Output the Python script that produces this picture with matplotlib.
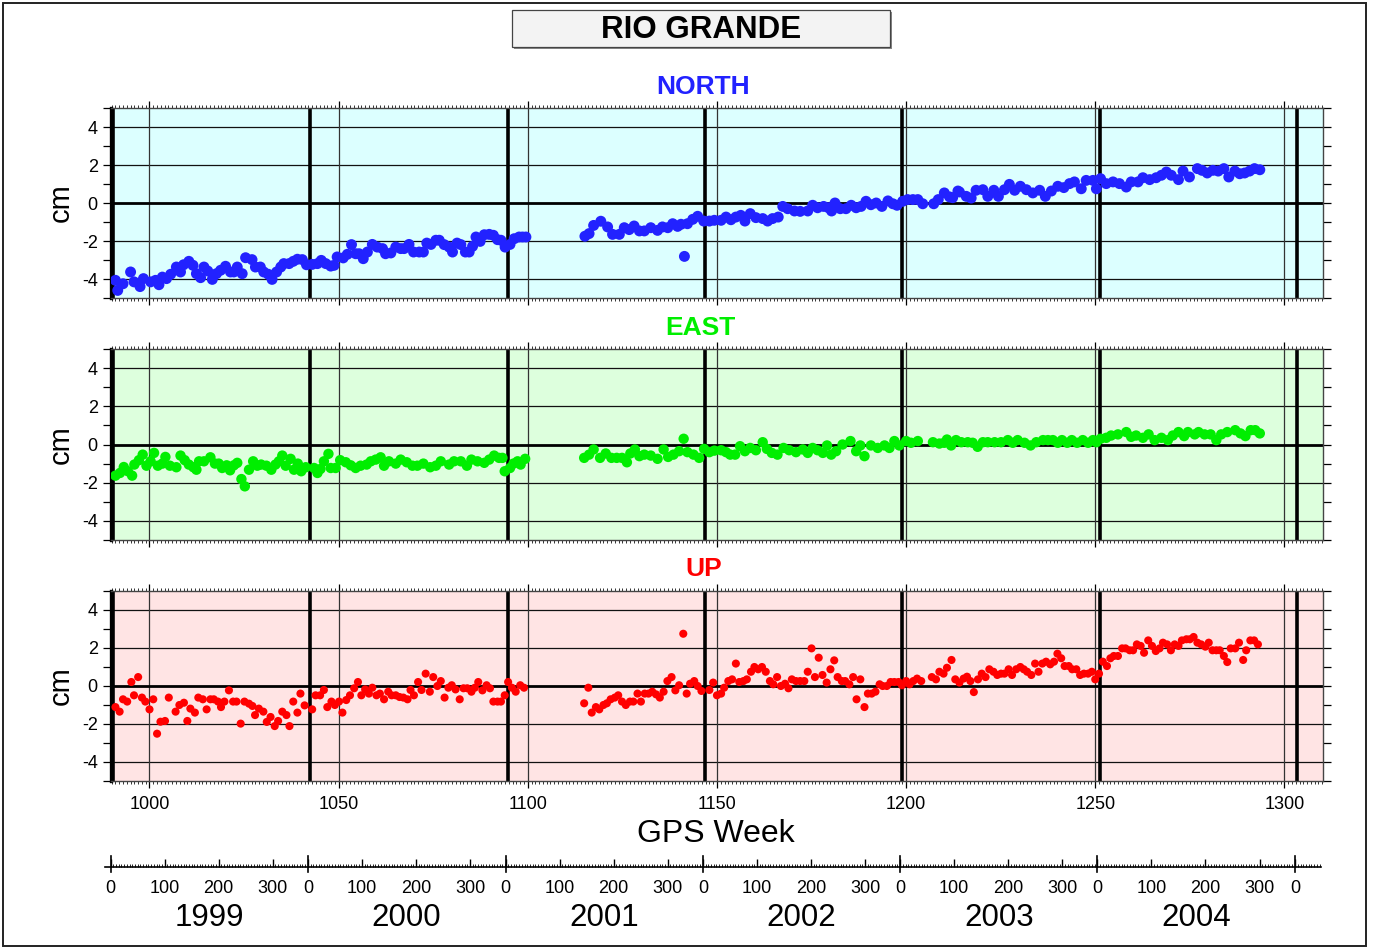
import numpy as np
import matplotlib.pyplot as plt
from matplotlib.patches import Rectangle
from matplotlib.ticker import MultipleLocator, FixedLocator
from matplotlib.transforms import blended_transform_factory

plt.rcParams['font.family'] = ['Liberation Sans', 'DejaVu Sans']
plt.rcParams['axes.unicode_minus'] = False

# ── data (GPS week, displacement in cm) ───────────────────────────────────────
north_week = [
    991.0, 991.6, 993.0, 995.0, 995.9, 997.5, 998.4, 1000.3, 1001.6, 1002.5,
    1003.4, 1004.5, 1005.6, 1007.1, 1008.2, 1009.0, 1010.4, 1011.5, 1012.4, 1013.5,
    1014.4, 1015.4, 1016.6, 1017.7, 1018.8, 1020.1, 1021.4, 1022.3, 1023.2, 1024.5,
    1025.4, 1027.1, 1028.0, 1029.3, 1030.2, 1031.4, 1032.4, 1033.6, 1034.7, 1035.5,
    1036.9, 1038.0, 1039.1, 1040.4, 1041.5, 1043.0, 1044.4, 1045.4, 1046.6, 1047.9,
    1048.8, 1049.6, 1051.2, 1052.3, 1053.4, 1054.5, 1055.4, 1056.5, 1057.6, 1058.9,
    1060.2, 1061.6, 1062.4, 1063.8, 1065.1, 1066.4, 1067.3, 1068.6, 1069.8, 1071.3,
    1072.4, 1073.3, 1074.4, 1075.7, 1076.6, 1077.9, 1079.2, 1080.1, 1081.3, 1082.3,
    1083.5, 1084.5, 1085.4, 1086.3, 1087.4, 1088.5, 1089.8, 1090.9, 1092.0, 1092.9,
    1094.0, 1095.3, 1096.4, 1097.7, 1098.6, 1099.5,
    1115.1, 1116.2, 1117.4, 1119.3, 1121.1, 1122.4, 1124.2, 1125.5, 1126.8, 1128.1,
    1129.5, 1130.8, 1132.5, 1134.3, 1135.6, 1137.0, 1138.3, 1139.6, 1140.5, 1141.4,
    1142.2, 1143.6, 1144.9, 1146.5, 1148.0, 1149.3, 1151.1, 1152.4, 1153.7, 1155.0,
    1156.3, 1157.4, 1158.8, 1160.3, 1162.1, 1163.4, 1164.7, 1166.2, 1167.4, 1168.7,
    1170.5, 1172.0, 1174.0, 1175.3, 1176.6, 1178.2, 1179.5, 1180.3, 1181.2, 1182.6,
    1184.1, 1185.5, 1186.8, 1188.1, 1189.4, 1190.7, 1192.1, 1193.6, 1195.2, 1196.5,
    1197.6, 1199.1, 1200.4, 1201.8, 1203.1, 1204.4, 1207.3, 1208.5, 1210.1, 1211.5,
    1212.3, 1213.7, 1214.1, 1215.9, 1217.2, 1218.5, 1220.3, 1221.6, 1223.2, 1224.4,
    1226.0, 1227.3, 1228.7, 1230.2, 1231.8, 1233.5, 1235.3, 1236.8, 1238.4, 1240.1,
    1241.7, 1243.2, 1244.5, 1246.3, 1247.6, 1249.4, 1250.3, 1251.4, 1252.9, 1254.7,
    1256.4, 1258.2, 1259.5, 1261.3, 1262.6, 1264.4, 1266.1, 1267.5, 1268.8, 1270.1,
    1272.0, 1273.2, 1274.9, 1277.0, 1278.2, 1279.6, 1281.1, 1282.5, 1284.0, 1285.3,
    1286.9, 1288.2, 1289.5, 1290.8, 1292.1, 1293.5,
]
north_cm = [
    -4.07, -4.60, -4.25, -3.63, -4.15, -4.40, -3.98, -4.15, -4.07, -4.30,
    -3.90, -3.98, -3.75, -3.37, -3.63, -3.25, -3.07, -3.28, -3.72, -3.93,
    -3.37, -3.58, -4.02, -3.72, -3.54, -3.33, -3.63, -3.63, -3.37, -3.72,
    -2.88, -2.98, -3.37, -3.37, -3.63, -3.75, -4.02, -3.63, -3.37, -3.19,
    -3.19, -3.07, -2.96, -2.98, -3.25, -3.23, -3.19, -3.02, -3.19, -3.32,
    -3.28, -2.84, -2.89, -2.70, -2.19, -2.67, -2.67, -2.93, -2.58, -2.18,
    -2.32, -2.40, -2.67, -2.63, -2.32, -2.40, -2.40, -2.18, -2.58, -2.58,
    -2.58, -2.11, -2.18, -1.96, -1.96, -2.19, -2.32, -2.58, -2.11, -2.19,
    -2.58, -2.58, -2.28, -1.79, -2.02, -1.67, -1.65, -1.70, -1.93, -1.96,
    -2.32, -2.18, -1.88, -1.79, -1.79, -1.79,
    -1.75, -1.61, -1.18, -0.96, -1.26, -1.65, -1.65, -1.30, -1.40, -1.21,
    -1.47, -1.47, -1.30, -1.44, -1.26, -1.30, -1.09, -1.23, -1.12, -2.81,
    -1.09, -0.86, -0.70, -0.95, -0.95, -0.91, -0.91, -0.74, -0.88, -0.74,
    -0.65, -0.95, -0.56, -0.77, -0.82, -0.95, -0.82, -0.74, -0.18, -0.30,
    -0.42, -0.44, -0.42, -0.12, -0.25, -0.18, -0.25, -0.42, 0.00, -0.30,
    -0.30, -0.12, -0.25, -0.18, 0.09, -0.09, 0.00, -0.18, 0.11, -0.04,
    -0.12, 0.09, 0.18, 0.18, 0.18, -0.04, -0.04, 0.18, 0.53, 0.32,
    0.28, 0.63, 0.58, 0.35, 0.26, 0.67, 0.70, 0.35, 0.67, 0.35,
    0.70, 0.98, 0.67, 0.88, 0.70, 0.53, 0.67, 0.35, 0.63, 0.88,
    0.81, 1.02, 1.11, 0.75, 1.19, 1.19, 0.75, 1.28, 1.02, 1.11,
    1.02, 0.84, 1.11, 1.11, 1.33, 1.23, 1.33, 1.46, 1.63, 1.46,
    1.23, 1.68, 1.37, 1.81, 1.72, 1.58, 1.72, 1.68, 1.81, 1.37,
    1.68, 1.54, 1.58, 1.68, 1.81, 1.75,
]

east_week = [
    991.0, 992.2, 993.2, 994.3, 995.4, 996.0, 997.2, 998.2, 999.2, 1000.3,
    1001.2, 1002.2, 1003.4, 1004.2, 1005.4, 1007.1, 1008.2, 1009.3, 1010.4, 1011.6,
    1012.4, 1013.1, 1014.4, 1016.1, 1017.3, 1018.3, 1019.2, 1020.4, 1021.3, 1022.3,
    1023.2, 1024.3, 1025.2, 1026.3, 1027.4, 1028.5, 1029.5, 1030.9, 1032.2, 1033.3,
    1034.2, 1035.1, 1036.0, 1037.3, 1038.2, 1039.2, 1040.1, 1041.3, 1043.5, 1044.4,
    1045.2, 1046.1, 1047.3, 1047.9, 1049.2, 1050.4, 1051.9, 1053.2, 1054.5, 1055.8,
    1057.4, 1058.5, 1059.8, 1061.1, 1062.0, 1063.3, 1065.1, 1066.4, 1068.0, 1069.5,
    1070.8, 1072.4, 1074.2, 1075.7, 1077.0, 1079.2, 1080.5, 1082.3, 1083.9, 1085.1,
    1086.7, 1088.5, 1089.8, 1091.1, 1092.4, 1093.3, 1093.9, 1095.3, 1096.2, 1097.3,
    1098.1, 1099.3,
    1114.9, 1116.2, 1117.4, 1119.1, 1120.6, 1122.1, 1123.5, 1124.9, 1126.2, 1127.1,
    1128.3, 1129.5, 1130.8, 1132.5, 1134.3, 1135.9, 1137.1, 1138.5, 1140.0, 1141.2,
    1142.2, 1143.8, 1145.3, 1146.6, 1148.0, 1149.3, 1151.1, 1152.4, 1153.5, 1154.8,
    1156.1, 1157.4, 1158.8, 1160.3, 1162.1, 1163.2, 1164.5, 1166.0, 1167.6, 1169.1,
    1170.9, 1172.7, 1174.0, 1175.3, 1176.6, 1178.0, 1179.1, 1180.2, 1181.5, 1183.2,
    1185.3, 1186.8, 1187.9, 1189.0, 1190.7, 1192.5, 1194.3, 1195.6, 1196.9, 1198.2,
    1200.0, 1201.3, 1203.1, 1207.1, 1208.8, 1210.1, 1210.8, 1211.9, 1213.2, 1214.6,
    1216.3, 1217.6, 1218.9, 1220.3, 1221.6, 1223.4, 1225.1, 1226.9, 1228.2, 1229.5,
    1231.3, 1232.9, 1234.4, 1236.2, 1237.5, 1238.8, 1240.1, 1241.2, 1242.6, 1243.8,
    1245.2, 1246.7, 1248.1, 1249.4, 1250.3, 1251.4, 1252.9, 1254.2, 1256.0, 1258.2,
    1259.5, 1260.8, 1262.6, 1264.1, 1265.7, 1267.5, 1269.2, 1270.5, 1272.0, 1273.5,
    1274.5, 1276.3, 1277.3, 1278.9, 1280.5, 1282.0, 1283.3, 1284.9, 1287.0, 1288.4,
    1289.7, 1291.1, 1292.3, 1293.5,
]
east_cm = [
    -1.63, -1.49, -1.18, -1.40, -1.63, -1.05, -0.82, -0.53, -1.11, -0.88,
    -0.44, -1.11, -1.00, -0.65, -1.11, -1.19, -0.58, -0.82, -1.05, -1.19,
    -1.32, -0.88, -0.88, -0.67, -1.00, -1.00, -1.23, -1.09, -1.35, -1.09,
    -0.96, -1.81, -2.19, -1.32, -0.88, -1.11, -1.05, -1.11, -1.32, -1.05,
    -0.88, -0.58, -1.11, -0.75, -1.32, -1.00, -1.40, -1.19, -1.23, -1.49,
    -1.28, -0.88, -0.49, -1.23, -1.23, -0.82, -0.93, -1.09, -1.23, -1.11,
    -1.05, -0.88, -0.79, -0.67, -1.11, -0.88, -1.00, -0.79, -0.93, -1.11,
    -1.11, -1.00, -1.19, -1.11, -0.88, -1.05, -0.88, -0.88, -1.11, -0.79,
    -0.88, -0.96, -0.79, -0.58, -0.70, -0.70, -1.40, -1.23, -1.00, -0.88,
    -1.05, -0.75,
    -0.70, -0.53, -0.26, -0.70, -0.47, -0.70, -0.70, -0.70, -0.93, -0.47,
    -0.26, -0.61, -0.53, -0.58, -0.75, -0.26, -0.65, -0.53, -0.35, 0.30,
    -0.40, -0.53, -0.70, -0.23, -0.40, -0.32, -0.30, -0.40, -0.53, -0.53,
    -0.09, -0.35, -0.18, -0.30, 0.12, -0.23, -0.44, -0.53, -0.18, -0.30,
    -0.40, -0.26, -0.44, -0.18, -0.30, -0.44, -0.05, -0.53, -0.35, 0.00,
    0.18, -0.35, -0.05, -0.61, -0.05, -0.18, -0.05, -0.18, 0.18, -0.05,
    0.18, 0.09, 0.18, 0.12, 0.05, 0.09, 0.26, -0.05, 0.23, 0.12,
    0.12, 0.09, -0.12, 0.12, 0.12, 0.12, 0.12, 0.23, 0.09, 0.23,
    0.09, -0.05, 0.12, 0.23, 0.23, 0.23, 0.09, 0.23, 0.09, 0.23,
    0.09, 0.23, 0.09, 0.23, 0.12, 0.30, 0.35, 0.47, 0.53, 0.65,
    0.40, 0.47, 0.35, 0.53, 0.23, 0.35, 0.23, 0.47, 0.65, 0.44,
    0.65, 0.53, 0.65, 0.53, 0.53, 0.23, 0.53, 0.65, 0.75, 0.58,
    0.44, 0.75, 0.75, 0.58,
]

up_week = [
    991.0, 992.1, 993.0, 994.1, 995.2, 995.9, 997.0, 998.0, 998.9, 1000.0,
    1001.0, 1002.0, 1002.9, 1004.1, 1005.1, 1006.9, 1007.9, 1009.1, 1010.0, 1010.8,
    1012.0, 1012.9, 1014.1, 1015.1, 1016.1, 1017.0, 1018.1, 1018.9, 1019.8, 1021.0,
    1022.1, 1023.0, 1024.1, 1025.1, 1026.3, 1027.2, 1027.9, 1028.9, 1030.1, 1031.0,
    1032.0, 1033.1, 1034.0, 1035.1, 1036.2, 1037.0, 1038.0, 1039.1, 1039.9, 1041.0,
    1043.0, 1043.9, 1045.1, 1046.1, 1047.0, 1048.1, 1049.0, 1050.1, 1051.0, 1052.0,
    1053.0, 1054.1, 1055.1, 1056.0, 1057.0, 1058.0, 1058.9, 1060.0, 1060.9, 1062.0,
    1063.1, 1064.0, 1065.1, 1066.1, 1067.1, 1068.2, 1069.0, 1069.9, 1071.0, 1071.9,
    1073.0, 1074.1, 1075.0, 1076.1, 1077.0, 1078.0, 1079.0, 1079.9, 1080.9, 1082.0,
    1083.0, 1084.0, 1085.1, 1086.0, 1086.9, 1088.0, 1089.1, 1090.0, 1090.9, 1092.0,
    1092.9, 1093.9, 1094.8, 1095.8, 1096.8, 1098.0, 1099.0,
    1114.9, 1116.0, 1116.9, 1118.0, 1118.9, 1120.0, 1120.9, 1121.9, 1123.0, 1123.9,
    1124.9, 1125.9, 1127.0, 1127.9, 1129.0, 1129.9, 1130.9, 1131.9, 1132.9, 1133.9,
    1134.9, 1135.9, 1136.9, 1138.0, 1139.0, 1140.0, 1141.1, 1142.0, 1142.9, 1144.0,
    1144.9, 1145.9, 1148.0, 1149.0, 1150.0, 1151.1, 1151.9, 1153.0, 1154.0, 1155.0,
    1155.9, 1157.0, 1157.9, 1159.0, 1159.9, 1160.9, 1161.9, 1162.9, 1164.0, 1164.9,
    1165.9, 1166.9, 1168.0, 1168.9, 1169.8, 1170.9, 1172.0, 1173.1, 1174.0, 1175.0,
    1175.9, 1176.9, 1177.9, 1179.0, 1180.0, 1181.0, 1181.9, 1183.0, 1183.9, 1185.0,
    1186.0, 1186.9, 1187.9, 1189.0, 1189.9, 1190.9, 1191.9, 1193.0, 1193.8, 1194.9,
    1195.9, 1196.9, 1198.0, 1198.9, 1200.0, 1200.9, 1201.9, 1202.9, 1204.0, 1206.8,
    1207.9, 1208.8, 1209.9, 1210.8, 1212.0, 1213.0, 1214.1, 1215.2, 1216.1, 1217.0,
    1217.9, 1219.0, 1220.0, 1221.0, 1222.0, 1223.1, 1224.1, 1225.1, 1226.0, 1227.1,
    1228.0, 1229.1, 1230.2, 1231.1, 1232.0, 1233.1, 1234.1, 1235.0, 1236.0, 1237.0,
    1238.1, 1239.1, 1240.0, 1241.0, 1241.9, 1243.0, 1243.9, 1245.0, 1246.0, 1247.0,
    1248.1, 1249.1, 1250.0, 1251.0, 1252.0, 1253.1, 1254.0, 1254.9, 1256.0, 1257.1,
    1258.0, 1259.1, 1260.0, 1261.0, 1262.0, 1262.9, 1264.0, 1265.0, 1266.0, 1267.0,
    1267.9, 1269.0, 1270.0, 1271.0, 1272.0, 1272.9, 1274.1, 1275.0, 1276.0, 1277.0,
    1278.0, 1279.1, 1280.0, 1281.0, 1282.0, 1282.9, 1284.0, 1284.9, 1285.8, 1287.0,
    1288.0, 1289.1, 1289.9, 1291.0, 1292.0, 1293.0,
]
up_cm = [
    -1.11, -1.35, -0.70, -0.82, 0.21, -0.49, 0.47, -0.61, -0.82, -1.23,
    -0.70, -2.51, -1.88, -1.84, -0.61, -1.35, -1.00, -0.88, -1.84, -1.19,
    -1.40, -0.61, -0.70, -1.23, -0.70, -0.70, -0.82, -1.11, -0.82, -0.23,
    -0.82, -0.82, -1.98, -0.82, -0.93, -1.05, -1.53, -1.19, -1.35, -1.89,
    -1.63, -2.11, -1.84, -1.35, -1.53, -2.11, -0.82, -1.40, -0.40, -1.02,
    -1.23, -0.49, -0.49, -0.21, -1.11, -0.82, -1.00, -0.82, -1.40, -0.74,
    -0.49, -0.12, 0.21, -0.49, -0.18, -0.40, -0.09, -0.49, -0.40, -0.70,
    -0.30, -0.49, -0.49, -0.58, -0.61, -0.70, -0.21, -0.49, 0.21, -0.21,
    0.65, -0.30, 0.47, 0.00, 0.26, -0.61, -0.09, 0.04, -0.18, -0.70,
    -0.12, -0.12, -0.30, -0.09, 0.21, -0.23, 0.04, -0.12, -0.82, -0.82,
    -0.82, -0.49, 0.21, -0.09, -0.30, 0.04, -0.09,
    -0.91, -0.09, -1.40, -1.11, -1.23, -1.00, -0.91, -0.70, -0.61, -0.49,
    -0.82, -1.00, -0.82, -0.82, -0.40, -0.82, -0.40, -0.40, -0.30, -0.44,
    -0.61, -0.30, 0.26, 0.47, -0.23, 0.04, 2.75, -0.40, 0.12, 0.26,
    0.00, -0.26, -0.21, 0.18, -0.49, -0.40, -0.09, 0.26, 0.35, 1.18,
    0.21, 0.26, 0.35, 0.75, 1.00, 0.88, 1.00, 0.75, 0.26, 0.09,
    0.47, 0.00, 0.12, -0.12, 0.35, 0.26, 0.26, 0.26, 0.75, 1.98,
    0.47, 1.49, 0.58, 0.18, 0.88, 1.35, 0.47, 0.26, 0.26, 0.09,
    0.47, -0.70, 0.35, -1.11, -0.40, -0.40, -0.30, 0.09, 0.00, 0.00,
    0.21, 0.21, 0.21, 0.04, 0.26, 0.09, 0.26, 0.39, 0.26, 0.47,
    0.35, 0.75, 0.65, 0.96, 1.37, 0.35, 0.18, 0.39, 0.49, 0.26,
    -0.32, 0.35, 0.65, 0.47, 0.88, 0.75, 0.58, 0.65, 0.65, 0.88,
    0.58, 0.88, 1.00, 0.88, 0.75, 0.58, 1.18, 0.75, 1.18, 1.28,
    1.14, 1.28, 1.70, 1.46, 1.05, 1.05, 0.88, 0.88, 0.58, 0.65,
    0.65, 0.75, 0.35, 0.65, 1.28, 1.05, 1.46, 1.58, 1.58, 1.98,
    1.98, 1.88, 1.88, 2.19, 2.11, 1.75, 2.40, 2.11, 1.84, 1.98,
    2.28, 2.19, 1.88, 2.19, 2.11, 2.40, 2.46, 2.46, 2.58, 2.28,
    2.19, 2.07, 2.28, 1.88, 1.88, 1.88, 1.58, 1.26, 1.98, 1.98,
    2.28, 1.37, 1.88, 2.40, 2.40, 2.19,
]

years = [1999, 2000, 2001, 2002, 2003, 2004, 2005]
day_ticks = [0, 100, 200, 300]

# ── helpers ────────────────────────────────────────────────────────────────────
W, H = 1375, 949
PX_PER_WEEK = 3.783
GPS_EPOCH = np.datetime64('1980-01-06')
YEAR_SHIFT = -0.42      # panel year lines sit a touch early in the original
CAL_SHIFT = -1.0        # calendar strip is offset a little more


def px_to_week(x):
    return 1000 + (x - 149.5) / PX_PER_WEEK


def year_week(y):
    """GPS week (fractional) of 1 January of year y."""
    return (np.datetime64(f'{y}-01-01') - GPS_EPOCH).astype(int) / 7.0


def px_rect(l, t, r, b):
    return [l / W, 1 - b / H, (r - l) / W, (b - t) / H]


XMIN, XMAX = px_to_week(111), px_to_week(1323)

fig = plt.figure(figsize=(W / 100, H / 100), dpi=100)

# outer frame + title box
fig.patches.append(Rectangle((3 / W, 3 / H), 1363 / W, 943 / H, transform=fig.transFigure,
                             fill=False, edgecolor='#222222', lw=1.4))
fig.patches.append(Rectangle((514 / W, 1 - 49 / H), 378 / W, 37 / H, transform=fig.transFigure,
                             facecolor='#888888', edgecolor='none'))
fig.patches.append(Rectangle((512 / W, 1 - 47 / H), 378 / W, 37 / H, transform=fig.transFigure,
                             facecolor='#f3f3f3', edgecolor='#444444', lw=0.9))
fig.text(701 / W, 1 - 30 / H, 'RIO GRANDE', ha='center', va='center',
         fontsize=22.5, fontweight='bold')

panels = [
    # name,   weeks,      values,  marker,    background, top, bottom, title x, title y, size
    ('NORTH', north_week, north_cm, '#2222ff', '#dcffff', 108, 298, 703, 87, 62),
    ('EAST',  east_week,  east_cm,  '#00ee00', '#ddffdd', 349, 540, 700, 328, 56),
    ('UP',    up_week,    up_cm,    '#ff0000', '#ffe4e4', 591, 781, 704, 569, 34),
]

for i, (name, wk, val, color, bg, top, bot, tx, ty, size) in enumerate(panels):
    ax = fig.add_axes(px_rect(111, top, 1323, bot))
    ax.set_facecolor(bg)
    ax.set_xlim(XMIN, XMAX)
    ax.set_ylim(-5, 5)

    for v in (-4, -2, 2, 4):
        ax.axhline(v, color='#111111', lw=0.9, zorder=1)
    ax.axhline(0, color='black', lw=2.0, zorder=1.5)
    for w in range(1000, 1301, 50):
        ax.axvline(w, color='#333333', lw=0.9, zorder=1)
    for y in years:
        ax.axvline(year_week(y) + YEAR_SHIFT, color='black', lw=2.6, zorder=1.5)

    ax.scatter(wk, val, s=size, color=color, edgecolors='none', zorder=3)

    ax.xaxis.set_major_locator(MultipleLocator(50))
    ax.xaxis.set_minor_locator(MultipleLocator(1))
    ax.yaxis.set_major_locator(MultipleLocator(2))
    ax.yaxis.set_minor_locator(MultipleLocator(1))
    ax.tick_params(axis='x', which='both', direction='out', top=True, bottom=True,
                   labelbottom=(i == 2), labelsize=13, pad=6)
    ax.tick_params(axis='x', which='major', length=5, width=0.9)
    ax.tick_params(axis='x', which='minor', length=2.2, width=0.7, color='#333333')
    ax.tick_params(axis='y', which='both', direction='out', left=True, right=True,
                   length=5.5, width=0.9, labelsize=13, pad=4)
    for s in ax.spines.values():
        s.set_color('#444444')
        s.set_linewidth(1.0)
    ax.spines['left'].set_linewidth(2.4)
    ax.spines['left'].set_color('black')

    ax.set_ylabel('cm', fontsize=21)
    ax.yaxis.set_label_coords(-0.03, 0.5)

    fig.text(tx / W, 1 - ty / H, name, ha='center', va='center', color=color,
             fontsize=19, fontweight='bold')

fig.text(716 / W, 1 - 834 / H, 'GPS Week', ha='center', va='center', fontsize=23)

# ── calendar axis (day of year) ────────────────────────────────────────────────
yax = fig.add_axes(px_rect(105, 857, 1321, 867))
yax.set_xlim(px_to_week(105), px_to_week(1321))
yax.set_ylim(0, 1)
yax.patch.set_visible(False)
for s in ('left', 'right', 'top'):
    yax.spines[s].set_visible(False)
yax.spines['bottom'].set_linewidth(1.2)
yax.set_yticks([])

major_pos, major_lab = [], []
for y in years[:-1]:
    for d in day_ticks:
        major_pos.append(year_week(y) + CAL_SHIFT + d / 7.0)
        major_lab.append(str(d))
major_pos.append(year_week(years[-1]) + CAL_SHIFT)
major_lab.append('0')
minor_pos = [year_week(y) + CAL_SHIFT + d / 7.0 for y in years for d in range(0, 366, 5)]

yax.xaxis.set_major_locator(FixedLocator(major_pos))
yax.xaxis.set_minor_locator(FixedLocator(minor_pos))
yax.set_xticklabels(major_lab)
yax.tick_params(axis='x', which='major', direction='in', length=5.5, width=1.0,
                labelsize=13, pad=9.5)
yax.tick_params(axis='x', which='minor', direction='in', length=2.2, width=0.6)
for y in years:
    yax.axvline(year_week(y) + CAL_SHIFT, ymin=-0.45, ymax=1.1, color='black', lw=1.2,
                clip_on=False)

trans = blended_transform_factory(yax.transData, fig.transFigure)
for y in years[:-1]:
    mid = year_week(y) + CAL_SHIFT + 182.5 / 7.0
    yax.text(mid, 1 - 918 / H, str(y), transform=trans, ha='center', va='center',
             fontsize=22.5)

fig.savefig('out.png', dpi=100)
